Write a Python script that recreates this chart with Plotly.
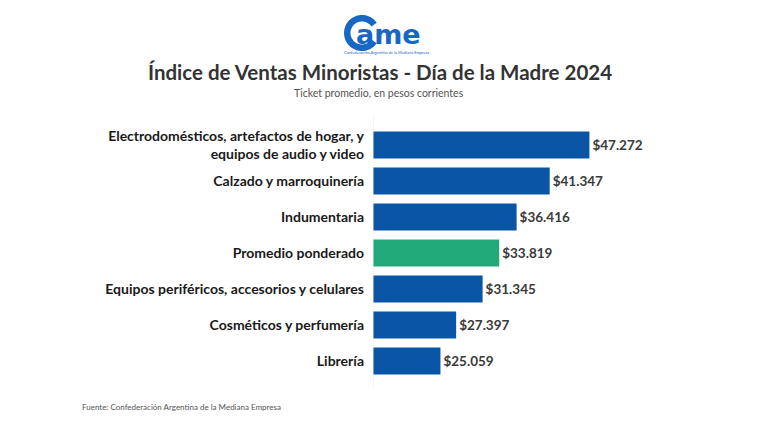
import math
import plotly.graph_objects as go

categories = [
    "Electrodomésticos, artefactos de hogar, y<br>equipos de audio y video",
    "Calzado y marroquinería",
    "Indumentaria",
    "Promedio ponderado",
    "Equipos periféricos, accesorios y celulares",
    "Cosméticos y perfumería",
    "Librería",
]
values = [47272, 41347, 36416, 33819, 31345, 27397, 25059]
value_labels = ["$47.272", "$41.347", "$36.416", "$33.819", "$31.345", "$27.397", "$25.059"]
highlight = "Promedio ponderado"

BLUE = "#0a55a5"
GREEN = "#22a97a"
LOGO = "#1768c4"
colors = [GREEN if c == highlight else BLUE for c in categories]

FONT = "Lato"
OFF = 8  # browser body margin
W, H = 761 - OFF, 435 - OFF
L, R, T, B = 373 - OFF, 48, 127 - OFF, 56

fig = go.Figure()
fig.add_trace(go.Bar(
    x=values, y=categories, orientation="h",
    marker=dict(color=colors, line=dict(width=0)),
    text=value_labels, textposition="outside", cliponaxis=False,
    textfont=dict(family=FONT, size=13.5, color="#3a3a3a", weight="bold"),
    hoverinfo="skip",
))

fig.update_layout(
    width=W, height=H,
    margin=dict(l=L, r=R, t=T, b=B, autoexpand=False),
    paper_bgcolor="white", plot_bgcolor="white",
    showlegend=False,
    bargap=0.25,
    font=dict(family=FONT),
    xaxis=dict(range=[15000, 65700], visible=False, fixedrange=True),
    yaxis=dict(autorange="reversed", showgrid=False, showline=False, zeroline=False,
               ticks="", ticklabelstandoff=8, automargin=False,
               tickfont=dict(family=FONT, size=14, color="#1a1a1a", weight="bold")),
)

fig.add_shape(type="line", xref="x", yref="paper", x0=15000, x1=15000, y0=-0.03, y1=1.05,
              line=dict(color="#ececec", width=1))

def px_x(x):
    return (x - OFF - L) / (W - L - R)

def px_y(y):
    return (H - B - (y - OFF)) / (H - T - B)

# Logo: ring "C" + "ame"
cx, cy, ro, ri = 362, 33, 18, 11.5
a0, a1 = math.radians(35), math.radians(325)
n = 40
outer = [(cx + ro * math.cos(a0 + (a1 - a0) * i / n), cy - ro * math.sin(a0 + (a1 - a0) * i / n)) for i in range(n + 1)]
inner = [(cx + ri * math.cos(a1 - (a1 - a0) * i / n), cy - ri * math.sin(a1 - (a1 - a0) * i / n)) for i in range(n + 1)]
pts = outer + inner
path = "M " + " L ".join(f"{px_x(x):.5f},{px_y(y):.5f}" for x, y in pts) + " Z"
fig.add_shape(type="path", xref="paper", yref="paper", path=path,
              fillcolor=LOGO, line=dict(width=0))
fig.add_annotation(xref="paper", yref="paper", x=px_x(354), y=px_y(35), text="ame",
                   showarrow=False, xanchor="left", yanchor="middle",
                   font=dict(family="DejaVu Sans", size=27, color=LOGO, weight="bold"))
fig.add_annotation(xref="paper", yref="paper", x=px_x(386), y=px_y(53),
                   text="Confederación Argentina de la Mediana Empresa",
                   showarrow=False, xanchor="center", yanchor="middle",
                   font=dict(family=FONT, size=4, color=LOGO))

fig.add_annotation(xref="paper", yref="paper", x=px_x(380), y=px_y(72),
                   text="Índice de Ventas Minoristas - Día de la Madre 2024",
                   showarrow=False, xanchor="center", yanchor="middle",
                   font=dict(family=FONT, size=20.5, color="#333333", weight="bold"))
fig.add_annotation(xref="paper", yref="paper", x=px_x(379), y=px_y(93),
                   text="Ticket promedio, en pesos corrientes",
                   showarrow=False, xanchor="center", yanchor="middle",
                   font=dict(family=FONT, size=10.5, color="#555555"))
fig.add_annotation(xref="paper", yref="paper", x=px_x(80), y=px_y(407),
                   text="Fuente: Confederación Argentina de la Mediana Empresa",
                   showarrow=False, xanchor="left", yanchor="middle",
                   font=dict(family=FONT, size=8, color="#555555"))

fig.write_html("out.html")
